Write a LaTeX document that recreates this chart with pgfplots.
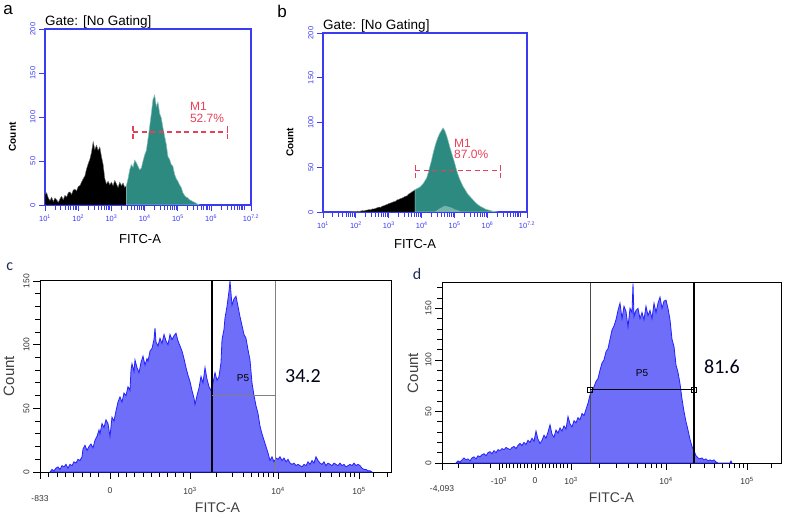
\documentclass[border=0pt]{standalone}
\usepackage{fontspec}
\setmainfont{Liberation Sans}
\newfontfamily\calibri{Carlito}
\usepackage{pgfplots}
\usepackage{pgfplotstable}
\pgfplotsset{compat=1.18}

\definecolor{facsblue}{HTML}{3B3BF2}
\definecolor{histteal}{HTML}{2C8A81}
\definecolor{gatered}{HTML}{E8405A}
\definecolor{bdfill}{HTML}{6E6EF8}
\definecolor{bdline}{HTML}{2222FF}
\definecolor{navy}{HTML}{1F2A55}
\definecolor{labelgray}{HTML}{333333}

% panel a (x = log10 of FITC-A)
\pgfplotstableread[row sep=\\]{x y\\
1.00 12\\ 1.05 14\\ 1.10 8\\ 1.15 5\\ 1.20 9\\ 1.25 4\\ 1.30 8\\ 1.35 6\\ 1.40 3\\ 1.45 7\\
1.50 10\\ 1.55 6\\ 1.60 11\\ 1.65 9\\ 1.70 14\\ 1.75 15\\ 1.80 12\\ 1.85 17\\ 1.90 18\\ 1.95 16\\
2.00 21\\ 2.05 22\\ 2.10 26\\ 2.15 30\\ 2.20 33\\ 2.25 41\\ 2.30 47\\ 2.35 52\\ 2.40 60\\ 2.45 72\\
2.50 63\\ 2.55 68\\ 2.60 62\\ 2.65 66\\ 2.70 55\\ 2.75 46\\ 2.80 30\\ 2.85 24\\ 2.90 27\\ 2.95 23\\
3.00 26\\ 3.05 22\\ 3.10 28\\ 3.15 24\\ 3.20 20\\ 3.25 26\\ 3.30 22\\ 3.35 25\\ 3.40 20\\ 3.45 22\\
}\aneg
\pgfplotstableread[row sep=\\]{x y\\
3.45 22\\ 3.50 30\\ 3.55 40\\ 3.60 46\\ 3.65 43\\ 3.70 51\\ 3.75 48\\ 3.80 44\\ 3.85 40\\ 3.90 42\\
3.95 50\\ 4.00 57\\ 4.05 62\\ 4.10 75\\ 4.15 89\\ 4.20 104\\ 4.25 120\\ 4.30 125\\ 4.35 112\\ 4.40 117\\
4.45 104\\ 4.50 99\\ 4.55 88\\ 4.60 78\\ 4.65 69\\ 4.70 55\\ 4.75 52\\ 4.80 46\\ 4.85 44\\ 4.90 35\\
4.95 30\\ 5.00 27\\ 5.05 23\\ 5.10 20\\ 5.15 14\\ 5.20 11\\ 5.25 9\\ 5.30 8\\ 5.35 6\\ 5.40 5\\
5.45 4\\ 5.50 3\\ 5.55 2\\ 5.60 1\\ 5.65 0\\
}\apos

% panel b
\pgfplotstableread[row sep=\\]{x y\\
1.80 0\\ 1.85 0.5\\ 1.90 0.3\\ 1.95 0.8\\ 2.00 0.5\\ 2.05 1\\ 2.10 0.7\\ 2.15 1.2\\ 2.20 1.5\\ 2.25 1.3\\
2.30 2\\ 2.35 2.2\\ 2.40 2.8\\ 2.45 2.5\\ 2.50 3.5\\ 2.55 3.3\\ 2.60 4.2\\ 2.65 4.8\\ 2.70 5.5\\ 2.75 5.2\\
2.80 6.5\\ 2.85 7\\ 2.90 7.8\\ 2.95 8.5\\ 3.00 9.5\\ 3.05 10\\ 3.10 10.8\\ 3.15 11.5\\ 3.20 12\\ 3.25 13.5\\
3.30 14\\ 3.35 15\\ 3.40 15.5\\ 3.45 16.5\\ 3.50 17.5\\ 3.55 18\\ 3.60 20\\ 3.65 21\\ 3.70 22.5\\ 3.75 23.5\\
3.80 25\\
}\bneg
\pgfplotstableread[row sep=\\]{x y\\
3.80 25\\ 3.85 26\\ 3.90 27\\ 3.95 28\\ 4.00 30\\ 4.05 32\\ 4.10 35\\ 4.15 38\\ 4.20 44\\ 4.25 51\\
4.30 58\\ 4.35 66\\ 4.40 73\\ 4.45 79\\ 4.50 84\\ 4.55 88\\ 4.60 91\\ 4.65 94\\ 4.70 91\\ 4.75 86\\
4.80 80\\ 4.85 73\\ 4.90 67\\ 4.95 61\\ 5.00 55\\ 5.05 48\\ 5.10 42\\ 5.15 37\\ 5.20 33\\ 5.25 29\\
5.30 26\\ 5.35 23\\ 5.40 20\\ 5.45 18\\ 5.50 16\\ 5.55 14\\ 5.60 12\\ 5.65 10\\ 5.70 8.5\\ 5.75 7\\
5.80 6\\ 5.85 5\\ 5.90 4\\ 5.95 3\\ 6.00 2.5\\ 6.05 2\\ 6.10 1.5\\ 6.15 1\\ 6.20 0.8\\ 6.25 0.5\\
6.30 0\\
}\bpos
\pgfplotstableread[row sep=\\]{x y\\
4.40 0\\ 4.50 3\\ 4.60 5\\ 4.70 7\\ 4.80 6\\ 4.90 5\\ 5.00 3\\ 5.10 2\\ 5.20 0\\
}\bfaint

% panel c (x = display channel)
\pgfplotstableread[row sep=\\]{x y\\
50 0\\ 52 2\\ 54 1\\ 56 3\\ 58 4\\ 60 2\\ 62 5\\ 64 4\\ 66 6\\ 68 3\\ 70 6\\ 72 5\\ 74 8\\ 76 7\\
78 10\\ 80 9\\ 82 12\\ 83 18\\ 85 21\\ 87 17\\ 89 20\\ 91 22\\ 93 19\\ 95 25\\ 97 28\\ 99 33\\
100 30\\ 102 38\\ 104 35\\ 106 41\\ 108 38\\ 110 28\\ 112 43\\ 114 40\\ 116 48\\ 118 55\\ 120 59\\
122 55\\ 124 62\\ 126 60\\ 128 67\\ 130 64\\ 131 80\\ 132 85\\ 134 79\\ 135 88\\ 137 82\\ 139 78\\
141 86\\ 143 91\\ 145 84\\ 147 89\\ 148 87\\ 150 95\\ 152 97\\ 154 104\\ 155 113\\ 156 102\\ 158 99\\
160 105\\ 162 101\\ 164 108\\ 166 103\\ 168 100\\ 170 108\\ 172 104\\ 174 107\\ 176 109\\ 178 103\\
180 99\\ 182 95\\ 184 89\\ 186 82\\ 188 76\\ 190 71\\ 192 64\\ 194 58\\ 195 53\\ 197 60\\ 199 66\\
201 75\\ 203 70\\ 205 82\\ 207 73\\ 209 67\\ 211 64\\ 213 70\\ 215 78\\ 217 72\\ 219 75\\ 221 86\\
222 104\\ 224 112\\ 225 121\\ 227 130\\ 229 142\\ 230 150\\ 232 131\\ 234 136\\ 236 138\\ 238 130\\
240 122\\ 242 115\\ 244 108\\ 246 105\\ 248 96\\ 250 88\\ 252 70\\ 254 60\\ 256 52\\ 258 46\\
260 36\\ 262 30\\ 264 25\\ 266 20\\ 268 15\\ 270 9\\ 272 12\\ 274 8\\ 276 11\\ 278 10\\ 280 12\\
282 9\\ 284 11\\ 286 8\\ 288 10\\ 290 7\\ 292 6\\ 294 7\\ 296 5\\ 298 6\\ 300 5\\ 302 4\\ 304 6\\
306 5\\ 308 8\\ 310 6\\ 312 9\\ 314 7\\ 316 12\\ 318 9\\ 320 7\\ 322 6\\ 324 8\\ 326 5\\ 328 7\\
330 6\\ 332 5\\ 334 7\\ 336 6\\ 338 5\\ 340 7\\ 342 5\\ 344 6\\ 346 4\\ 348 5\\ 350 6\\ 352 5\\
354 7\\ 356 5\\ 358 6\\ 360 5\\ 362 3\\ 364 2\\ 366 2\\ 368 1\\ 370 1\\ 372 0\\
}\chist

% panel d
\pgfplotstableread[row sep=\\]{x y\\
456 0\\ 458 2\\ 460 1\\ 462 3\\ 464 5\\ 466 3\\ 468 4\\ 470 2\\ 472 5\\ 474 6\\ 476 4\\ 478 7\\
480 6\\ 482 8\\ 484 9\\ 486 7\\ 488 10\\ 490 11\\ 492 9\\ 494 12\\ 496 10\\ 498 13\\ 500 12\\
502 14\\ 504 13\\ 506 15\\ 508 14\\ 510 13\\ 512 15\\ 514 16\\ 516 14\\ 518 17\\ 520 19\\ 522 17\\
524 20\\ 526 18\\ 528 22\\ 530 20\\ 532 24\\ 534 21\\ 536 31\\ 538 23\\ 540 19\\ 542 22\\ 544 27\\
546 24\\ 548 30\\ 550 37\\ 552 28\\ 554 25\\ 556 32\\ 558 29\\ 560 34\\ 562 31\\ 564 36\\ 566 33\\
568 45\\ 570 38\\ 572 35\\ 574 41\\ 576 39\\ 578 44\\ 580 42\\ 582 48\\ 584 46\\ 586 52\\ 588 58\\
590 66\\ 592 70\\ 594 74\\ 596 79\\ 598 82\\ 600 90\\ 602 97\\ 604 100\\ 606 108\\ 608 111\\ 610 120\\
612 129\\ 614 133\\ 616 139\\ 618 148\\ 620 155\\ 622 140\\ 624 152\\ 626 147\\ 628 132\\ 630 150\\
632 146\\ 633 174\\ 634 142\\ 636 148\\ 638 150\\ 640 140\\ 642 146\\ 644 139\\ 646 152\\ 648 143\\
650 148\\ 652 140\\ 654 155\\ 656 146\\ 658 155\\ 660 161\\ 662 150\\ 664 157\\ 666 158\\ 668 150\\
670 139\\ 672 120\\ 674 113\\ 676 95\\ 678 88\\ 680 77\\ 682 62\\ 684 50\\ 686 40\\ 688 32\\
690 23\\ 692 16\\ 694 12\\ 696 7\\ 698 5\\ 700 4\\ 702 5\\ 704 3\\ 706 4\\ 708 2\\ 710 3\\
712 2\\ 714 3\\ 716 1\\ 718 0\\ 730 0\\ 731 2\\ 732 0\\
}\dhist

\pgfplotsset{
  gateplot/.style={
    scale only axis,
    xmin=1, xmax=7.2, ymin=0, ymax=200,
    tick pos=left, tick align=outside,
    axis line style={facsblue, line width=1.1pt},
    every tick/.append style={facsblue, line width=0.9pt},
    major tick length=6pt, minor tick length=5pt,
    xtick={1,2,3,4,5,6,7.2},
    xticklabels={10\textsuperscript{1},10\textsuperscript{2},10\textsuperscript{3},10\textsuperscript{4},10\textsuperscript{5},10\textsuperscript{6},10\textsuperscript{7.2}},
    minor xtick={1.301,1.477,1.602,1.699,1.778,1.845,1.903,1.954,2.301,2.477,2.602,2.699,2.778,2.845,2.903,2.954,3.301,3.477,3.602,3.699,3.778,3.845,3.903,3.954,4.301,4.477,4.602,4.699,4.778,4.845,4.903,4.954,5.301,5.477,5.602,5.699,5.778,5.845,5.903,5.954,6.301,6.477,6.602,6.699,6.778,6.845,6.903,6.954,7},
    ytick={0,50,100,150,200},
    yticklabels={0,50,100,150,200},
    ticklabel style={font=\fontsize{7.5}{8}\selectfont, color=facsblue},
    yticklabel style={rotate=90, anchor=south},
  },
  bdplot/.style={
    scale only axis,
    ymin=0, tick pos=left, tick align=outside,
    axis line style={black, line width=1pt},
    every tick/.append style={black, line width=0.8pt},
    major tick length=7pt, minor tick length=5pt,
    ytick={0,50,100,150},
    yticklabels={0,50,100,150},
    ticklabel style={font=\fontsize{8.5}{9}\selectfont, color=labelgray},
    yticklabel style={rotate=90, anchor=south},
  },
}

\begin{document}
\begin{tikzpicture}[x=1pt,y=1pt]
\path[use as bounding box] (0,0) rectangle (787,-518);

% ---------- a ----------
\begin{axis}[gateplot, at={(45pt,-205pt)}, anchor=south west, width=206pt, height=176pt]
\addplot[fill=black, draw=black!55, line width=0.4pt] table {\aneg} \closedcycle;
\addplot[fill=histteal, draw=histteal!55!white, line width=0.5pt] table {\apos} \closedcycle;
\addplot[gatered, line width=1.1pt, dash pattern=on 5pt off 3.5pt] coordinates {(3.65,83) (6.48,83)};
\addplot[gatered, line width=1.1pt, dash pattern=on 5pt off 3pt] coordinates {(3.65,75) (3.65,91)};
\addplot[gatered, line width=1.1pt, dash pattern=on 5pt off 3pt] coordinates {(6.48,75) (6.48,91)};
\node[anchor=west, text=gatered, font=\fontsize{12}{12}\selectfont, inner sep=0pt] at (axis cs:5.36,112) {M1};
\node[anchor=west, text=gatered, font=\fontsize{12}{12}\selectfont, inner sep=0pt] at (axis cs:5.36,99) {52.7\%};
\end{axis}
\node[anchor=west, inner sep=0pt, font=\fontsize{13.5}{14}\selectfont] at (45,-22.5) {Gate: [No Gating]};
\node[rotate=90, font=\bfseries\fontsize{10}{10}\selectfont] at (12.5,-137) {Count};
\node[font=\fontsize{13}{13}\selectfont] at (140,-239) {FITC-A};
\node[font=\fontsize{17}{17}\selectfont] at (8,-10.5) {a};

% ---------- b ----------
\begin{axis}[gateplot, at={(323pt,-212pt)}, anchor=south west, width=204pt, height=179pt]
\addplot[fill=black, draw=black!55, line width=0.4pt] table {\bneg} \closedcycle;
\addplot[fill=histteal, draw=histteal!55!white, line width=0.5pt] table {\bpos} \closedcycle;
\addplot[fill=histteal!65!white, draw=none] table {\bfaint} \closedcycle;
\addplot[gatered, line width=1.1pt, dash pattern=on 5pt off 3.5pt] coordinates {(3.8,46) (6.4,46)};
\addplot[gatered, line width=1.1pt, dash pattern=on 5pt off 3pt] coordinates {(3.8,38) (3.8,55)};
\addplot[gatered, line width=1.1pt, dash pattern=on 5pt off 3pt] coordinates {(6.4,38) (6.4,55)};
\node[anchor=west, text=gatered, font=\fontsize{12}{12}\selectfont, inner sep=0pt] at (axis cs:4.98,77) {M1};
\node[anchor=west, text=gatered, font=\fontsize{12}{12}\selectfont, inner sep=0pt] at (axis cs:4.98,64) {87.0\%};
\end{axis}
\node[anchor=west, inner sep=0pt, font=\fontsize{13.5}{14}\selectfont] at (323,-26.5) {Gate: [No Gating]};
\node[rotate=90, font=\bfseries\fontsize{10}{10}\selectfont] at (290,-142.5) {Count};
\node[font=\fontsize{13}{13}\selectfont] at (415,-244) {FITC-A};
\node[font=\fontsize{17}{17}\selectfont] at (282,-11.5) {b};

% ---------- c ----------
\begin{axis}[bdplot, at={(40pt,-472pt)}, anchor=south west, width=351pt, height=191pt,
  xmin=40, xmax=391, ymax=150,
  minor ytick={10,20,30,40,60,70,80,90,110,120,130,140},
  xtick={110,190,278,359},
  xticklabels={0,10\textsuperscript{3},10\textsuperscript{4},10\textsuperscript{5}},
  xticklabel style={yshift=-5pt},
  minor xtick={48,57,65,73,82,90,98,118,126,134,143,151,159,167,175,183,216,232,243,251,258,263,268,273,305,320,331,339,345,350,354,373,387},
  extra x ticks={40}, extra x tick labels={-833},
  extra x tick style={tick label style={yshift=-8pt}}]
\addplot[fill=bdfill, draw=bdline, line width=0.8pt] table {\chist} \closedcycle;
\addplot[black, line width=1.3pt] coordinates {(212,0) (212,150)};
\addplot[black!50, line width=0.8pt] coordinates {(275,0) (275,150)};
\addplot[black!50, line width=0.8pt] coordinates {(212,60) (275,60)};
\node[font=\fontsize{10}{10}\selectfont] at (axis cs:243,74) {P5};
\node[anchor=west, inner sep=0pt, font=\calibri\fontsize{20}{20}\selectfont, text=black!90!blue] at (axis cs:285,75) {34.2};
\end{axis}
\node[rotate=90, text=black!75, font=\fontsize{15}{15}\selectfont] at (9,-376) {Count};
\node[text=black!75, font=\fontsize{14}{14}\selectfont] at (217.5,-507.5) {FITC-A};
\node[text=navy, font=\calibri\fontsize{16}{16}\selectfont] at (9.7,-266.5) {c};

% ---------- d ----------
\begin{axis}[bdplot, at={(442pt,-463pt)}, anchor=south west, width=339pt, height=180pt,
  xmin=442, xmax=781, ymax=174.6,
  minor ytick={10,20,30,40,60,70,80,90,110,120,130,140,160,170},
  xtick={499,535,571,666,747},
  xticklabels={-10\textsuperscript{3},0,10\textsuperscript{3},10\textsuperscript{4},10\textsuperscript{5}},
  xticklabel style={yshift=-4pt},
  minor xtick={458,473,490,502.6,506.2,509.8,513.4,517,520.6,524.2,527.8,531.4,538.6,542.2,545.8,549.4,553,556.6,560.2,563.8,567.4,599.6,616.3,628.2,637.4,644.9,651.3,656.8,661.6,690.4,704.6,714.8,722.6,729,734.5,739.2,743.3,771},
  extra x ticks={442}, extra x tick labels={-4{,}093},
  extra x tick style={tick label style={yshift=-8pt}}]
\addplot[fill=bdfill, draw=bdline, line width=0.8pt] table {\dhist} \closedcycle;
\addplot[black!70, line width=0.8pt] coordinates {(590,0) (590,174.6)};
\addplot[black, line width=1.3pt] coordinates {(694,0) (694,174.6)};
\addplot[black, line width=1pt, mark=square, mark size=2.5pt, mark options={solid, fill=none, line width=0.9pt}] coordinates {(590,71) (694,71)};
\node[font=\fontsize{10}{10}\selectfont] at (axis cs:642,87.5) {P5};
\node[anchor=west, inner sep=0pt, font=\calibri\fontsize{20}{20}\selectfont, text=black!90!blue] at (axis cs:704,93) {81.6};
\end{axis}
\node[rotate=90, text=black!75, font=\fontsize{15}{15}\selectfont] at (413,-373) {Count};
\node[text=black!75, font=\fontsize{14}{14}\selectfont] at (611.5,-497.5) {FITC-A};
\node[text=navy, font=\calibri\fontsize{16}{16}\selectfont] at (417,-274.5) {d};
\end{tikzpicture}
\end{document}
